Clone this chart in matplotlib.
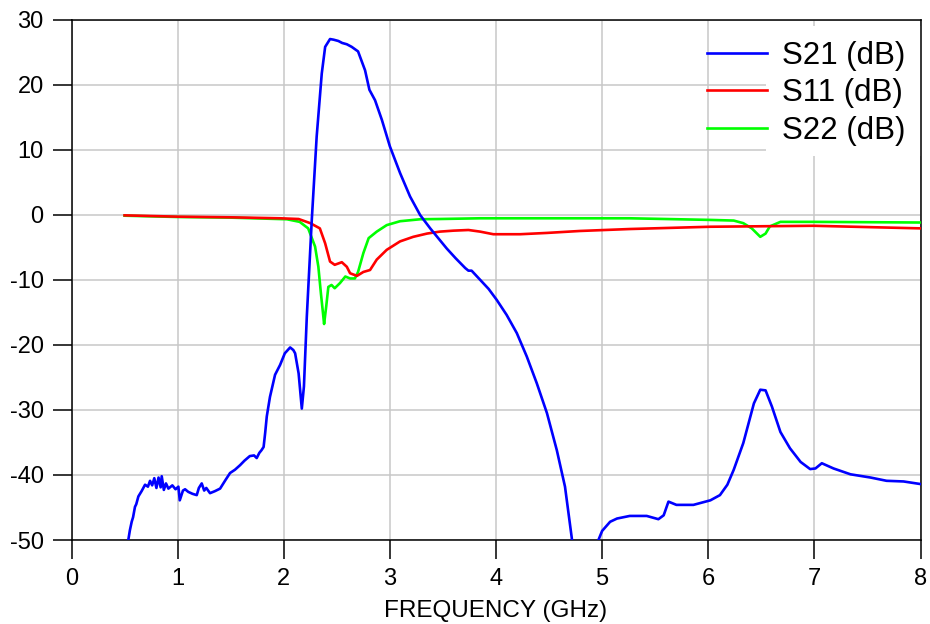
import matplotlib
matplotlib.use('Agg')
import matplotlib.pyplot as plt
from matplotlib.patches import Rectangle

plt.rcParams['font.family'] = ['Liberation Sans', 'DejaVu Sans']
plt.rcParams['axes.unicode_minus'] = False

# S21 (dB)
s21_freq = [0.52, 0.535, 0.55, 0.567, 0.58, 0.598, 0.61, 0.63, 0.66, 0.693,
            0.72, 0.74, 0.76, 0.78, 0.80, 0.82, 0.84, 0.85, 0.87, 0.89,
            0.913, 0.95, 0.98, 1.007, 1.02, 1.05, 1.07, 1.10, 1.14, 1.18,
            1.20, 1.227, 1.25, 1.27, 1.305, 1.35, 1.40, 1.45, 1.494, 1.54,
            1.588, 1.63, 1.68, 1.72, 1.745, 1.77, 1.79, 1.81, 1.825, 1.84,
            1.87, 1.918, 1.965, 2.01, 2.06, 2.09, 2.107, 2.14, 2.17, 2.19,
            2.217, 2.24, 2.264, 2.31, 2.358, 2.39, 2.436, 2.47, 2.515, 2.55,
            2.594, 2.64, 2.70, 2.766, 2.807, 2.86, 2.924, 3.0, 3.096, 3.19,
            3.285, 3.38, 3.47, 3.536, 3.62, 3.71, 3.74, 3.77, 3.85, 3.93,
            4.007, 4.10, 4.196, 4.29, 4.384, 4.48, 4.573, 4.65, 4.714, 4.73,
            4.95, 4.965, 5.0, 5.075, 5.14, 5.26, 5.42, 5.53, 5.58, 5.625,
            5.70, 5.86, 6.02, 6.11, 6.18, 6.24, 6.33, 6.43, 6.49, 6.54,
            6.60, 6.68, 6.77, 6.87, 6.96, 7.01, 7.07, 7.18, 7.34, 7.53,
            7.68, 7.84, 8.0]
s21_db = [-53, -50, -48.5, -47.2, -46.5, -44.9, -44.5, -43.3, -42.5, -41.5,
          -41.8, -40.9, -41.6, -40.5, -42.0, -40.4, -41.9, -40.2, -42.3, -41.3,
          -42.1, -41.6, -42.2, -41.8, -43.9, -42.4, -42.2, -42.6, -42.9, -43.1,
          -42.0, -41.3, -42.4, -42.0, -42.8, -42.5, -42.1, -40.8, -39.7, -39.2,
          -38.5, -37.8, -37.1, -37.0, -37.4, -36.6, -36.2, -35.7, -33.5, -31.0,
          -28.0, -24.6, -23.1, -21.3, -20.4, -20.8, -21.3, -24.4, -29.8, -26.4,
          -15.7, -8.5, -0.8, 12.0, 21.7, 25.8, 27.0, 26.9, 26.7, 26.4,
          26.2, 25.8, 25.1, 22.2, 19.2, 17.6, 14.6, 10.5, 6.4, 2.8,
          -0.05, -2.1, -3.9, -5.2, -6.7, -8.2, -8.6, -8.6, -10.0, -11.4,
          -13.1, -15.4, -18.2, -21.8, -25.9, -30.5, -36.2, -41.8, -49.7, -53,
          -53, -50, -48.6, -47.2, -46.7, -46.3, -46.3, -46.8, -46.2, -44.1,
          -44.6, -44.6, -43.9, -43.1, -41.5, -39.2, -35.1, -29.0, -26.9, -27.0,
          -29.5, -33.4, -35.9, -38.0, -39.1, -39.0, -38.2, -39.0, -39.9, -40.4,
          -40.9, -41.0, -41.4]

# S11 (dB)
s11_freq = [0.5, 1.0, 1.5, 1.965, 2.14, 2.25, 2.34, 2.39, 2.436, 2.48,
            2.547, 2.594, 2.625, 2.69, 2.75, 2.813, 2.876, 2.97, 3.096, 3.22,
            3.35, 3.47, 3.6, 3.74, 3.85, 3.975, 4.227, 4.48, 4.79, 5.26,
            6.02, 6.99, 8.0]
s11_db = [-0.1, -0.3, -0.4, -0.55, -0.66, -1.3, -2.1, -4.4, -7.2, -7.7,
          -7.3, -8.0, -9.0, -9.4, -8.8, -8.5, -6.9, -5.4, -4.1, -3.4,
          -2.9, -2.6, -2.45, -2.35, -2.6, -3.0, -3.0, -2.8, -2.5, -2.2,
          -1.85, -1.7, -2.1]

# S22 (dB)
s22_freq = [0.5, 1.0, 1.5, 2.03, 2.15, 2.23, 2.295, 2.326, 2.35, 2.37,
            2.38, 2.40, 2.42, 2.45, 2.48, 2.53, 2.58, 2.625, 2.67, 2.70,
            2.75, 2.80, 2.876, 2.97, 3.096, 3.285, 3.47, 3.85, 5.26, 6.02,
            6.24, 6.33, 6.41, 6.49, 6.54, 6.58, 6.68, 6.99, 8.0]
s22_db = [-0.15, -0.35, -0.45, -0.7, -1.1, -2.1, -4.9, -8.0, -12.1, -15.2,
          -16.8, -14.1, -11.1, -10.8, -11.3, -10.5, -9.5, -9.8, -9.8, -8.8,
          -5.9, -3.6, -2.6, -1.6, -1.0, -0.7, -0.66, -0.55, -0.55, -0.8,
          -0.9, -1.3, -2.1, -3.4, -2.9, -1.8, -1.1, -1.1, -1.2]

x_ticks = [0, 1, 2, 3, 4, 5, 6, 7, 8]
y_ticks = [-50, -40, -30, -20, -10, 0, 10, 20, 30]

fig = plt.figure(figsize=(9.3, 6.24), dpi=100)
ax = fig.add_axes([0.0769, 0.1346, 0.9129, 0.8341])

l22, = ax.plot(s22_freq, s22_db, color='#00ff00', lw=1.9, zorder=3)
l11, = ax.plot(s11_freq, s11_db, color='#ff0000', lw=1.9, zorder=4)
l21, = ax.plot(s21_freq, s21_db, color='#0000ff', lw=1.9, zorder=5)

ax.set_xlim(0, 8)
ax.set_ylim(-50, 30)
ax.set_xticks(x_ticks)
ax.set_yticks(y_ticks)
ax.grid(True, color='#c8c8c8', lw=1.1)
ax.set_axisbelow(True)
ax.tick_params(direction='out', length=14, width=1.1, labelsize=17, pad=6)
for sp in ax.spines.values():
    sp.set_linewidth(1.1)
    sp.set_color('black')
ax.set_xlabel('FREQUENCY (GHz)', fontsize=17.5, labelpad=7)

# white patch behind legend text
ax.add_patch(Rectangle((0.818, 0.738), 0.182, 0.25, transform=ax.transAxes,
                       facecolor='white', edgecolor='none', zorder=2))
leg = ax.legend([l21, l11, l22], ['S21 (dB)', 'S11 (dB)', 'S22 (dB)'],
                loc='upper right', bbox_to_anchor=(0.9965, 0.983), frameon=False,
                fontsize=22.5, handlelength=1.95, handletextpad=0.45,
                labelspacing=0.235, borderaxespad=0)

plt.savefig('out.png', dpi=100)
